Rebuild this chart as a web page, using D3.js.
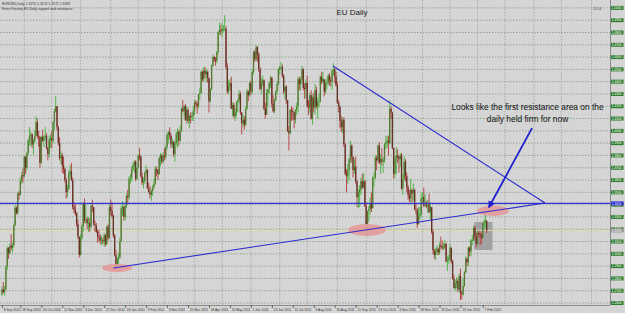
<!DOCTYPE html>
<html>
<head>
<meta charset="utf-8">
<title>EU Daily</title>
<script src="https://cdn.jsdelivr.net/npm/d3@7"></script>
<style>
  body { margin: 0; background: #d5d5d5; }
  svg { display: block; font-family: Arial, "Liberation Sans", sans-serif; }
</style>
</head>
<body>
<div id="chart"></div>
<script>
// daily EURUSD bars, values in pips above 1.0000, bar 0 = 8 Sep 2010
var firstOpen = 2670;
var high = [
2735,2770,2740,
2905,3060,3055,3085,3160, 3090,3240,3395,3385,3500, 3510,3620,3665,3695,3800,
3790,3830,3935,4030,3990, 3980,3935,4000,4120,4100, 4000,3955,3960,4010,3965,
4030,3980,3870,3960,3970, 4000,4080,4180,4282,4200, 4040,3950,3830,3820,3790,
3700,3620,3560,3680,3720, 3740,3620,3420,3400,3340, 3280,3140,3160,3240,3420,
3450,3400,3300,3300,3290, 3400,3440,3380,3270,3250, 3200,3190,3160,3150,3130,
3170,3160,3230,3240,3400, 3440,3420,3320,3160,3030, 2970,3010,3130,3390,3430,
3390,3420,3490,3520,3630, 3650,3710,3740,3760,3760, 3710,3810,3860,3800,3660,
3620,3670,3720,3690,3580, 3550,3530,3560,3610,3710, 3710,3690,3790,3820,3810,
3830,3860,3880,3980,4000, 4030,3980,3940,3920,3920, 4000,4020,4010,4040,4190,
4250,4210,4220,4200,4190, 4130,4150,4150,4200,4250, 4250,4240,4300,4350,4490,
4490,4520,4520,4500,4490, 4430,4350,4540,4620,4610, 4600,4650,4810,4880,4860,
4880,4860,4940,4850,4550, 4410,4420,4440,4230,4230, 4180,4240,4260,4330,4320,
4140,4130,4120,4200,4340, 4330,4400,4410,4500,4650, 4660,4695,4690,4640,4520,
4430,4450,4420,4230,4340, 4340,4400,4450,4440,4290, 4260,4330,4400,4510,4530,
4560,4540,4460,4370,4370, 4250,4040,4180,4200,4190, 4150,4180,4230,4440,4440,
4440,4530,4510,4390,4420, 4450,4250,4310,4330,4290, 4310,4380,4360,4270,4300,
4450,4480,4480,4420,4410, 4430,4460,4470,4440,4500, 4550,4510,4480,4400,4250,
4200,4120,4110,4110,3900, 3690,3730,3780,3920,3890, 3770,3770,3790,3600,3530,
3560,3620,3650,3660,3600, 3420,3350,3390,3460,3500, 3630,3660,3800,3800,3890,
3910,3810,3860,3790,3900, 3960,3960,3960,4247,4200, 4150,3860,3800,3870,3850,
3800,3820,3820,3650,3790, 3770,3660,3560,3520,3610, 3530,3570,3530,3410,3370,
3380,3380,3490,3500,3540, 3490,3430,3440,3490,3420, 3380,3200,3040,3050,3070,
3050,3090,3140,3110,3090, 3110,3090,2980,2990, 3080,3050,2950,2830,
2790,2810,2800,2840,2880, 2700,2800,2860,2980,2970, 3060,3060,3120,3150,3230,
3230,3170,3190,3190,3180, 3170,3250,3280,3320,3270
];
var low = [
2658,2680,2660,
2720,2870,2960,2995,3030, 3010,3050,3225,3320,3320, 3440,3470,3570,3580,3620,
3650,3680,3800,3880,3875, 3860,3810,3900,3960,3935, 3870,3700,3730,3910,3870,
3920,3850,3760,3780,3860, 3860,3900,4010,4150,4000, 3880,3760,3730,3660,3650,
3580,3450,3460,3520,3620, 3590,3360,3330,3310,3220, 3120,2970,2990,3110,3180,
3250,3240,3200,3180,3180, 3210,3340,3230,3180,3170, 3090,3100,3080,3070,3080,
3060,3060,3070,3110,3120, 3310,3290,3130,2980,2900, 2860,2910,2960,3100,3310,
3270,3270,3370,3400,3440, 3570,3590,3670,3660,3590, 3600,3690,3760,3620,3560,
3530,3570,3640,3530,3500, 3450,3430,3470,3530,3560, 3630,3600,3640,3710,3730,
3740,3760,3770,3850,3900, 3930,3860,3860,3790,3750, 3880,3860,3880,3910,3990,
4150,4120,4080,4060,4060, 4020,4060,4080,4080,4130, 4190,4140,4180,4250,4300,
4400,4400,4430,4400,4390, 4150,4230,4330,4520,4560, 4530,4550,4620,4780,4780,
4760,4800,4810,4500,4300, 4300,4330,4180,4120,4100, 4080,4110,4150,4230,4130,
3970,4030,4010,4040,4170, 4240,4280,4290,4300,4460, 4560,4570,4560,4480,4330,
4300,4360,4170,4100,4140, 4200,4300,4350,4190,4150, 4140,4240,4300,4370,4460,
4490,4430,4300,4260,4220, 3990,3840,3970,4080,4090, 4020,4060,4130,4150,4330,
4330,4390,4330,4260,4270, 4190,4130,4150,4090,4050, 4150,4130,4180,4100,4190,
4230,4380,4390,4280,4300, 4340,4370,4370,4360,4330, 4450,4390,4360,4220,4150,
4020,3990,3980,3870,3640, 3500,3570,3600,3740,3740, 3620,3650,3570,3380,3370,
3380,3480,3530,3530,3380, 3210,3146,3260,3320,3340, 3380,3550,3610,3680,3750,
3730,3650,3720,3660,3740, 3850,3860,3800,3890,4100, 3850,3610,3620,3650,3740,
3660,3710,3520,3480,3590, 3590,3500,3440,3420,3420, 3420,3430,3360,3320,3210,
3260,3280,3300,3420,3380, 3380,3370,3330,3330,3280, 3160,3000,2960,2950,2990,
2990,2990,3040,3030,3030, 3040,2930,2860,2920, 2940,2920,2790,2720,
2700,2720,2690,2690,2624, 2630,2660,2730,2840,2900, 2900,2980,2980,3070,3100,
3110,3050,3070,3130,3070, 3080,3120,3200,3210,3170
];
var close = [
2710,2690,2710,
2895,3045,3005,3065,3050, 3070,3230,3375,3330,3490, 3480,3590,3640,3630,3790,
3700,3820,3920,3960,3970, 3890,3920,3960,4070,3960, 3950,3740,3950,3920,3950,
3960,3860,3810,3930,3940, 3920,4070,4160,4200,4030, 3900,3780,3800,3720,3690,
3600,3500,3530,3650,3670, 3600,3380,3360,3330,3240, 3140,2990,3130,3220,3410,
3270,3280,3250,3250,3220, 3390,3380,3240,3230,3180, 3140,3130,3110,3110,3100,
3150,3080,3220,3130,3380, 3350,3310,3150,2990,2910, 2960,2970,3100,3370,3380,
3300,3390,3470,3460,3610, 3620,3690,3720,3750,3610, 3700,3800,3790,3630,3580,
3590,3660,3680,3530,3500, 3480,3510,3540,3570,3690, 3680,3650,3780,3800,3750,
3800,3790,3870,3970,3990, 3960,3890,3910,3810,3900, 3970,3990,3920,4000,4180,
4160,4200,4090,4170,4080, 4120,4110,4120,4160,4230, 4220,4200,4300,4310,4480,
4420,4490,4460,4480,4430, 4240,4340,4530,4600,4580, 4570,4640,4800,4820,4810,
4830,4830,4830,4520,4320, 4360,4390,4180,4210,4120, 4150,4230,4250,4300,4150,
4060,4090,4050,4180,4320, 4290,4390,4320,4480,4640, 4580,4680,4620,4500,4340,
4390,4410,4180,4130,4310, 4340,4390,4430,4220,4160, 4250,4320,4380,4500,4520,
4520,4450,4320,4360,4250, 4000,3980,4170,4160,4150, 4090,4170,4200,4420,4380,
4420,4500,4350,4340,4390, 4200,4190,4290,4100,4270, 4190,4330,4200,4240,4240,
4440,4400,4420,4320,4390, 4390,4450,4410,4400,4490, 4500,4440,4370,4230,4200,
4080,4030,4090,3890,3650, 3630,3680,3770,3880,3790, 3680,3710,3590,3460,3500,
3520,3590,3540,3590,3390, 3240,3350,3360,3410,3370, 3620,3620,3780,3760,3880,
3740,3770,3750,3760,3890, 3910,3920,3900,4180,4150, 3860,3650,3780,3800,3790,
3770,3800,3530,3610,3750, 3630,3540,3480,3450,3520, 3490,3520,3360,3350,3240,
3310,3320,3450,3460,3390, 3400,3390,3400,3340,3380, 3180,3030,2990,3020,3040,
3010,3070,3060,3050,3050, 3080,2940,2950,2960, 3050,2940,2800,2720,
2760,2780,2710,2820,2680, 2670,2740,2850,2960,2930, 3050,3020,3110,3110,3210,
3140,3080,3170,3160,3150, 3130,3250,3260,3270,3190
];
if (high.length !== close.length || low.length !== close.length) {
  throw new Error("bar arrays differ: " + high.length + " " + low.length + " " + close.length);
}

// time axis labels (bar index + text) and month separators
var tickIdx = [0,14,30,46,62,78,94,110,126,142,158,174,190,206,222,238,254,270,286,302,318,334,350,367];
var tickText = ["8 Sep 2010","28 Sep 2010","20 Oct 2010","11 Nov 2010","3 Dec 2010","27 Dec 2010",
  "18 Jan 2011","9 Feb 2011","3 Mar 2011","25 Mar 2011","18 Apr 2011","10 May 2011","1 Jun 2011",
  "23 Jun 2011","15 Jul 2011","8 Aug 2011","30 Aug 2011","21 Sep 2011","13 Oct 2011","4 Nov 2011",
  "28 Nov 2011","20 Dec 2011","13 Jan 2012","7 Feb 2012"];
var monthIdx = [17,38,60,83,104,124,147,168,190,212,233,256,278,299,321,342,363,384,406,427,450];

// price levels
var levels = d3.range(126, 151).map(function(d) { return d / 100; });
var levelLine = 1.3410;

// drawn objects: [bar index, price]
var supportLine = [[85, 1.2885], [414.5, 1.3413]];
var trendLine = [[252.7, 1.4527], [414.5, 1.3413]];
var arrowPts = [[404.6, 1.4022], [371.8, 1.3381]];
var ellipses = [[87.8, 1.2885, 11.5, 0.0033], [278.6, 1.3194, 14.5, 0.0049], [374.8, 1.3349, 12.2, 0.0041]];
var boxArea = [[360.5, 1.3259], [374.4, 1.3031]];

var W = 625, H = 313, plotR = 610, plotB = 305;

var svg = d3.select("#chart").append("svg")
  .attr("width", W).attr("height", H);

var x = d3.scaleLinear().domain([0, 463]).range([2, 2 + 463 * 1.31]);
var y = d3.scaleLinear().domain([1.26, 1.50]).range([303, 7.9]);

var bars = close.map(function(c, i) {
  var o = i === 0 ? firstOpen : close[i - 1];
  var p = function(v) { return 1 + v / 10000; };
  return { i: i, o: p(o), c: p(c), h: p(Math.max(high[i], o, c)), l: p(Math.min(low[i], o, c)) };
});

svg.append("rect").attr("width", W).attr("height", H).attr("fill", "#d5d5d5");

var plot = svg.append("g");

// grid
plot.selectAll(".vgrid").data(monthIdx).enter().append("line")
  .attr("x1", function(d) { return x(d); }).attr("x2", function(d) { return x(d); })
  .attr("y1", 0).attr("y2", plotB)
  .attr("stroke", "#a0a0a0").attr("stroke-width", 0.8).attr("stroke-dasharray", "1.5,1.5");

plot.selectAll(".hgrid").data(levels).enter().append("line")
  .attr("x1", 0).attr("x2", plotR)
  .attr("y1", function(d) { return y(d); }).attr("y2", function(d) { return y(d); })
  .attr("stroke", "#88a488").attr("stroke-width", 0.9).attr("stroke-dasharray", "1.5,1.5");

// background rectangle object
plot.append("rect")
  .attr("x", x(boxArea[0][0])).attr("y", y(boxArea[0][1]))
  .attr("width", x(boxArea[1][0]) - x(boxArea[0][0]))
  .attr("height", y(boxArea[1][1]) - y(boxArea[0][1]))
  .attr("fill", "#a2a2a2");

// bid line
plot.append("line")
  .attr("x1", 0).attr("x2", plotR)
  .attr("y1", y(bars[bars.length - 1].c)).attr("y2", y(bars[bars.length - 1].c))
  .attr("stroke", "#e6dba8").attr("stroke-width", 1);

// candles
var cg = plot.selectAll(".bar").data(bars).enter().append("g");
cg.append("line")
  .attr("x1", function(d) { return x(d.i); }).attr("x2", function(d) { return x(d.i); })
  .attr("y1", function(d) { return y(d.h); }).attr("y2", function(d) { return y(d.l); })
  .attr("stroke", function(d) { return d.c >= d.o ? "#52b64a" : "#b84848"; })
  .attr("stroke-width", 1);
cg.append("rect")
  .attr("x", function(d) { return x(d.i) - 0.65; })
  .attr("width", 1.3)
  .attr("y", function(d) { return y(Math.max(d.o, d.c)); })
  .attr("height", function(d) { return Math.max(0.6, Math.abs(y(d.o) - y(d.c))); })
  .attr("fill", function(d) { return d.c >= d.o ? "#5d7434" : "#5e3424"; });

// ellipses
plot.selectAll(".ell").data(ellipses).enter().append("ellipse")
  .attr("cx", function(d) { return x(d[0]); })
  .attr("cy", function(d) { return y(d[1]); })
  .attr("rx", function(d) { return x(d[0] + d[2]) - x(d[0]); })
  .attr("ry", function(d) { return y(d[1] - d[3]) - y(d[1]); })
  .attr("fill", "#e39a9a").attr("opacity", 0.9);

// horizontal level line
plot.append("line")
  .attr("x1", 0).attr("x2", plotR)
  .attr("y1", y(levelLine)).attr("y2", y(levelLine))
  .attr("stroke", "#3434d8").attr("stroke-width", 1.2);

var line = d3.line().x(function(d) { return x(d[0]); }).y(function(d) { return y(d[1]); });
plot.append("path").attr("d", line(supportLine)).attr("fill", "none")
  .attr("stroke", "#2a2ad0").attr("stroke-width", 1.1);
plot.append("path").attr("d", line(trendLine)).attr("fill", "none")
  .attr("stroke", "#2a2ad0").attr("stroke-width", 1.1);

svg.append("defs").append("marker")
  .attr("id", "head").attr("viewBox", "0 0 10 10").attr("refX", 8).attr("refY", 5)
  .attr("markerWidth", 4).attr("markerHeight", 4).attr("orient", "auto")
  .append("path").attr("d", "M0,0L10,5L0,10z").attr("fill", "#1f1fd0");
plot.append("path").attr("d", line(arrowPts)).attr("fill", "none")
  .attr("stroke", "#1f1fd0").attr("stroke-width", 1.8).attr("marker-end", "url(#head)");

// texts
svg.append("text").attr("x", 352).attr("y", 15).attr("text-anchor", "middle")
  .style("font-size", "8px").attr("fill", "#1a1a1a").text("EU Daily");
svg.append("text").attr("x", 527.5).attr("y", 110).attr("text-anchor", "middle")
  .style("font-size", "8.4px").attr("fill", "#111").text("Looks like the first resistance area on the");
svg.append("text").attr("x", 527.5).attr("y", 121.5).attr("text-anchor", "middle")
  .style("font-size", "8.4px").attr("fill", "#111").text("daily held firm for now");

svg.append("text").attr("x", 2).attr("y", 5).style("font-size", "3.4px").attr("fill", "#333")
  .text("EURUSD,Daily  1.3270 1.3274 1.3172 1.3189");
svg.append("text").attr("x", 2).attr("y", 9.5).style("font-size", "3.4px").attr("fill", "#333")
  .text("Forex Factory  EU Daily  support and resistance");
svg.append("text").attr("x", 593).attr("y", 10).style("font-size", "3.4px").attr("fill", "#444")
  .text("21:14");

// axes frame
svg.append("line").attr("x1", plotR + 0.5).attr("x2", plotR + 0.5).attr("y1", 0).attr("y2", plotB)
  .attr("stroke", "#8a8a8a").attr("stroke-width", 1);
svg.append("line").attr("x1", 0).attr("x2", plotR).attr("y1", plotB + 0.5).attr("y2", plotB + 0.5)
  .attr("stroke", "#8a8a8a").attr("stroke-width", 1);

// time axis
var xAxis = d3.axisBottom(x).tickValues(tickIdx).tickSize(3).tickPadding(0)
  .tickFormat(function(d, i) { return tickText[i]; });
var xa = svg.append("g").attr("transform", "translate(0," + plotB + ")").call(xAxis);
xa.select(".domain").remove();
xa.selectAll(".tick line").attr("stroke", "#666");
xa.selectAll(".tick text").attr("text-anchor", "start").attr("dx", "1.2").attr("dy", "0")
  .attr("y", 5.5).style("font-size", "3.3px").attr("fill", "#333");

// price axis with level boxes
var pa = svg.append("g");
pa.selectAll(".lvl").data(levels).enter().append("rect")
  .attr("x", 611).attr("width", 12.5)
  .attr("y", function(d) { return y(d) - 2; }).attr("height", 4)
  .attr("fill", "#2f7d2f");
pa.selectAll(".lvlt").data(levels).enter().append("text")
  .attr("x", 611.8).attr("y", function(d) { return y(d) + 1.2; })
  .style("font-size", "3.2px").attr("fill", "#fff")
  .text(function(d) { return d.toFixed(4); });
pa.append("rect").attr("x", 611).attr("width", 12.5)
  .attr("y", y(levelLine) - 2).attr("height", 4).attr("fill", "#2424d0");
pa.append("text").attr("x", 611.8).attr("y", y(levelLine) + 1.2)
  .style("font-size", "3.2px").attr("fill", "#fff").text(levelLine.toFixed(4));
pa.append("rect").attr("x", 611).attr("width", 12.5)
  .attr("y", y(bars[bars.length - 1].c) - 2).attr("height", 4).attr("fill", "#9a9a9a");
pa.append("text").attr("x", 611.8).attr("y", y(bars[bars.length - 1].c) + 1.2)
  .style("font-size", "3.2px").attr("fill", "#fff").text(bars[bars.length - 1].c.toFixed(4));
</script>
</body>
</html>
